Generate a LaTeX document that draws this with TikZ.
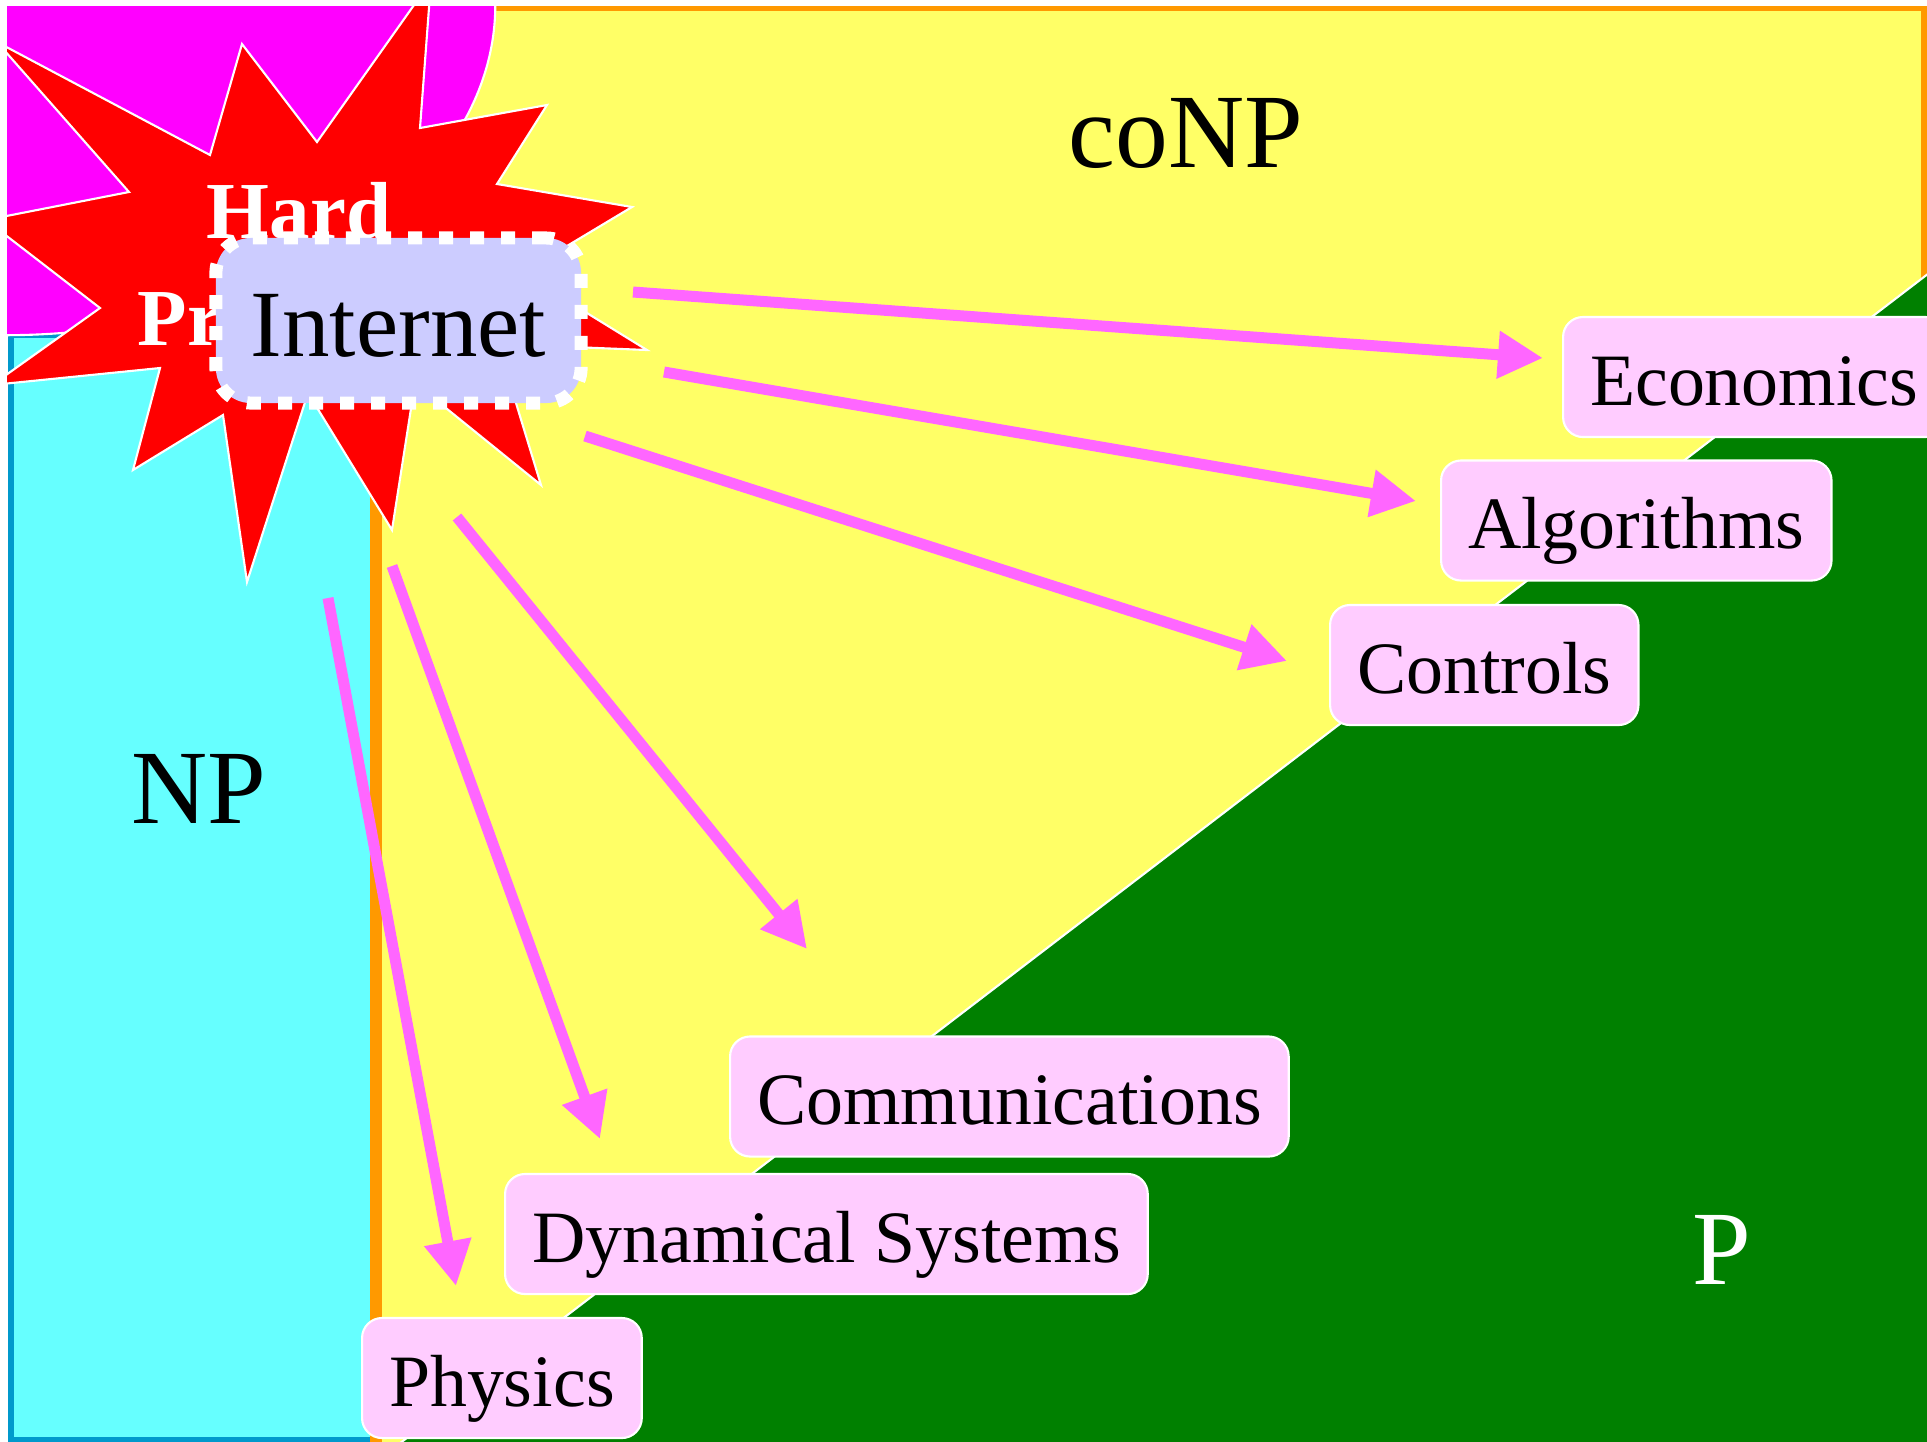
\documentclass[tikz,border=0pt]{standalone}
\usepackage{fontspec}
\setmainfont{Liberation Serif}
\usetikzlibrary{arrows.meta}

\definecolor{conpyellow}{HTML}{FFFF66}
\definecolor{conporange}{HTML}{FF9900}
\definecolor{npcyan}{HTML}{66FFFF}
\definecolor{npblue}{HTML}{0099CC}
\definecolor{pgreen}{HTML}{008000}
\definecolor{hardmagenta}{HTML}{FF00FF}
\definecolor{netblue}{HTML}{CCCCFF}
\definecolor{fieldpink}{HTML}{FFCCFF}
\definecolor{linkpink}{HTML}{FF66FF}

\tikzset{
	region/.style={draw=white, line width=0.6pt},
	field/.style={draw=white, line width=0.6pt, fill=fieldpink, rounded corners=0.2cm, minimum height=1.2cm, inner xsep=0.27cm, text height=0.66cm, text depth=0.1cm, font=\fontsize{21}{25}\selectfont, anchor=west},
	link/.style={-{Triangle[length=0.45cm,width=0.45cm]}, line width=0.11cm, draw=linkpink},
	classname/.style={anchor=base, font=\fontsize{30}{36}\selectfont}
}

\begin{document}
\begin{tikzpicture}[x=0.01cm, y=-0.01cm]
			\useasboundingbox (0,0) rectangle (1927,1441);
			\fill[white] (0,0) rectangle (1927,1441);
			\clip (7,6) rectangle (1927,1441);
			
			%NP
			\draw[fill=npcyan, draw=npblue, line width=0.06cm] (11,335) rectangle (376,1440);
			
			%coNP
			\draw[fill=conpyellow, draw=conporange, line width=0.12cm] (376,5) rectangle (1927,1460);
			
			%P
			\draw[region, fill=pgreen] (1950,257) -- (1950,1460) -- (378,1460) -- cycle;
			
			%Hard problems
			\draw[region, fill=hardmagenta] (5,5) ellipse [x radius=4.9cm, y radius=3.3cm];
			\draw[region, fill=red] (431,-19) -- (420,128) -- (547,105) -- (497,184) -- (632,207) -- (522,273)
				-- (647,350) -- (498,344) -- (541,485) -- (415,383) -- (392,530) -- (308,393)
				-- (247,582) -- (223,415) -- (133,470) -- (160,368) -- (-8,385) -- (100,308)
				-- (-14,220) -- (129,192) -- (-3,42) -- (210,155) -- (242,44) -- (317,142) -- cycle;
			\node[anchor=base, text=white, font=\bfseries\fontsize{23}{28}\selectfont] (hard) at (299,238) {Hard};
			\node[anchor=base, text=white, font=\bfseries\fontsize{23}{28}\selectfont] (problems) at (301,345) {Problems};
			
			%class names
			\node[classname] (conp) at (1186,167) {coNP};
			\node[classname] (np) at (199,823) {NP};
			\node[classname, text=white] (p) at (1722,1284) {P};
			
			%Internet
			\node[draw=white, fill=netblue, line width=0.13cm, dash pattern=on 0.14cm off 0.17cm, rounded corners=0.35cm,
				minimum width=3.65cm, minimum height=1.65cm, text height=0.71cm, text depth=0cm,
				font=\fontsize{27}{32}\selectfont] (internet) at (398.5,320.5) {Internet};
			
			%fields
			\node[field] (econ) at (1562,377) {Economics};
			\node[field] (alg) at (1440,520.5) {Algorithms};
			\node[field] (ctrl) at (1329,665) {Controls};
			\node[field] (comm) at (729,1096.5) {Communications};
			\node[field] (dyn) at (504,1234) {Dynamical Systems};
			\node[field] (phys) at (361,1378) {Physics};
			
			%arrows
			\coordinate (econ-out) at (633,292);
			\coordinate (econ-in) at (1543,358);
			\coordinate (alg-out) at (664,372);
			\coordinate (alg-in) at (1416,501);
			\coordinate (ctrl-out) at (585,436);
			\coordinate (ctrl-in) at (1287,661);
			\coordinate (comm-out) at (457,517);
			\coordinate (comm-in) at (807,949);
			\coordinate (dyn-out) at (392,566);
			\coordinate (dyn-in) at (600,1139);
			\coordinate (phys-out) at (328,598);
			\coordinate (phys-in) at (456,1286);
			
			\draw[link] (econ-out) -- (econ-in);
			\draw[link] (alg-out) -- (alg-in);
			\draw[link] (ctrl-out) -- (ctrl-in);
			\draw[link] (comm-out) -- (comm-in);
			\draw[link] (dyn-out) -- (dyn-in);
			\draw[link] (phys-out) -- (phys-in);
\end{tikzpicture}
\end{document}
